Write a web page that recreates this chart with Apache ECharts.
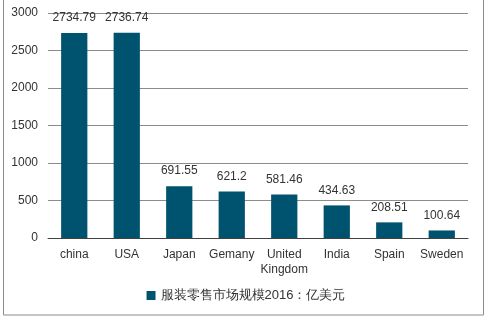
<!DOCTYPE html>
<html>
<head>
<meta charset="utf-8">
<script src="https://cdn.jsdelivr.net/npm/echarts@6/dist/echarts.min.js"></script>
<style>
html,body{margin:0;padding:0;background:#fff;}
#chart{width:492px;height:323px;}
</style>
</head>
<body>
<div id="chart"></div>
<script>
// Apparel retail market size by country, 2016 (100M USD)
const categories = ['china', 'USA', 'Japan', 'Gemany', 'United\nKingdom', 'India', 'Spain', 'Sweden'];
const values = [2734.79, 2736.74, 691.55, 621.2, 581.46, 434.63, 208.51, 100.64];
const seriesName = '服装零售市场规模2016：亿美元';
const yTicks = { min: 0, max: 3000, interval: 500 };

const chart = echarts.init(document.getElementById('chart'), null, { renderer: 'canvas' });
const font = 'Liberation Sans, Arial, sans-serif';

chart.setOption({
  animation: false,
  backgroundColor: '#fff',
  textStyle: { fontFamily: font },
  graphic: [{
    type: 'rect',
    shape: { x: 3.5, y: -5, width: 480, height: 320 },
    style: { fill: 'none', stroke: '#8c8c8c', lineWidth: 1 },
    silent: true
  }],
  grid: { left: 48, right: 24, top: 13, bottom: 85 },
  legend: {
    bottom: 16,
    left: 'center',
    itemWidth: 9,
    itemHeight: 9,
    icon: 'rect',
    itemGap: 5,
    textStyle: { color: '#333', fontSize: 13, fontFamily: font }
  },
  xAxis: {
    type: 'category',
    data: categories,
    axisLine: { lineStyle: { color: '#404040', width: 1 } },
    axisTick: { show: false },
    axisLabel: { color: '#333', fontSize: 12, margin: 9, lineHeight: 15, interval: 0 }
  },
  yAxis: {
    type: 'value',
    min: yTicks.min,
    max: yTicks.max,
    interval: yTicks.interval,
    axisLine: { show: false },
    axisTick: { show: false },
    axisLabel: { color: '#333', fontSize: 12, margin: 10, formatter: v => String(v) },
    splitLine: { lineStyle: { color: '#8c8c8c', width: 1 } }
  },
  series: [{
    name: seriesName,
    type: 'bar',
    data: values,
    barWidth: '50%',
    itemStyle: { color: '#00536E' },
    label: {
      show: true,
      position: 'top',
      distance: 9,
      color: '#333',
      fontSize: 12,
      fontFamily: font
    }
  }]
});
</script>
</body>
</html>
